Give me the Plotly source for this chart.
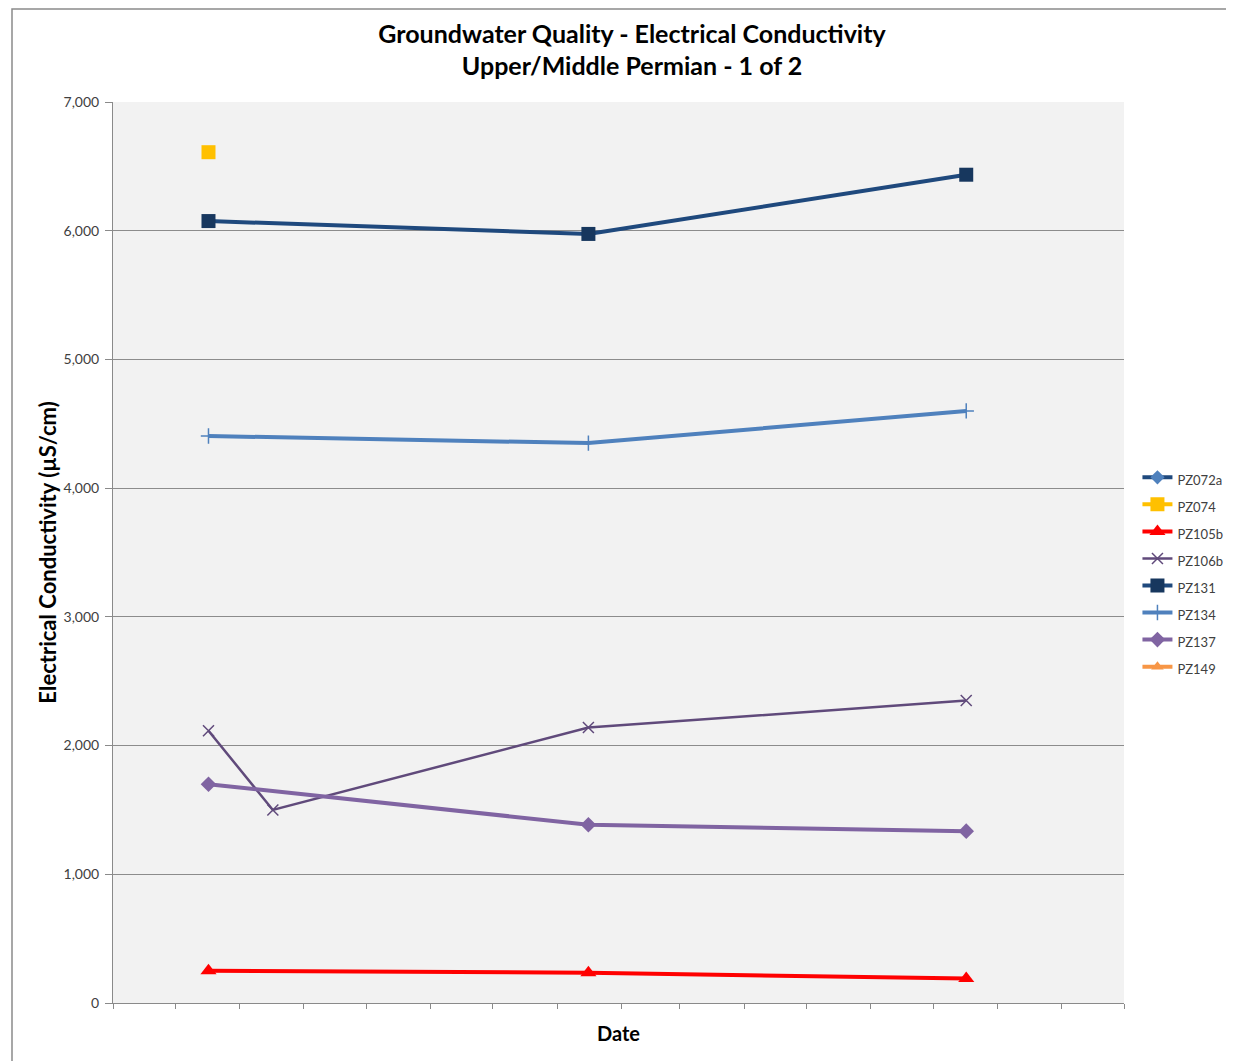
import plotly.graph_objects as go

# sample dates (mid-month, axis is monthly with no labels)
dates_main = ["2010-07-17", "2011-01-16", "2011-07-17"]
dates_106b = ["2010-07-17", "2010-08-17", "2011-01-16", "2011-07-17"]

pz072a = []
pz074 = [6610]
pz105b = [250, 235, 190]
pz106b = [2115, 1500, 2140, 2350]
pz131 = [6075, 5975, 6435]
pz134 = [4405, 4350, 4600]
pz137 = [1700, 1385, 1335]
pz149 = []

FONT = "Lato, Open Sans, sans-serif"

fig = go.Figure()

series = [
    ("PZ072a", [], pz072a, "#1F497D", "#4F81BD", "diamond", 11, 4),
    ("PZ074", dates_main[:1], pz074, "#FFC000", "#FFC000", "square", 14, 4),
    ("PZ105b", dates_main, pz105b, "#FF0000", "#FF0000", "triangle-up", 14, 4),
    ("PZ106b", dates_106b, pz106b, "#604A7B", "#604A7B", "x-thin", 11, 2.5),
    ("PZ131", dates_main, pz131, "#1F497D", "#17375E", "square", 14, 4),
    ("PZ134", dates_main, pz134, "#4F81BD", "#4F81BD", "cross-thin", 11, 4),
    ("PZ137", dates_main, pz137, "#8064A2", "#8064A2", "diamond", 12, 4),
    ("PZ149", [], pz149, "#F79646", "#F79646", "triangle-up", 11, 4),
]

for name, xs, ys, lc, mc, sym, ms, lw in series:
    fig.add_trace(
        go.Scatter(
            x=xs if xs else [None],
            y=ys if ys else [None],
            mode="lines+markers",
            name=f"<span style='font-size:13px'>{name}</span>",
            hovertemplate=f"{name}: %{{y:,}}<extra></extra>",
            line=dict(color=lc, width=lw),
            marker=dict(
                color=mc,
                symbol=sym,
                size=ms,
                line=dict(color=mc, width=1.5 if "thin" in sym else 0),
            ),
        )
    )

# outer chart border
fig.add_shape(
    type="rect",
    xref="paper",
    yref="paper",
    x0=-0.0999,
    x1=1.3,
    y0=-0.2,
    y1=1.1032,
    line=dict(color="#8a8a8a", width=1.5),
    fillcolor="rgba(0,0,0,0)",
    layer="below",
)

fig.update_layout(
    width=1226,
    height=1053,
    title=dict(
        text="<b>Groundwater Quality - Electrical Conductivity<br>Upper/Middle Permian - 1 of 2</b>",
        x=0.509,
        xanchor="center",
        y=0.967,
        yanchor="top",
        font=dict(family=FONT, size=25, color="#000000"),
    ),
    font=dict(family=FONT, color="#404040"),
    paper_bgcolor="white",
    plot_bgcolor="#F2F2F2",
    margin=dict(l=105, r=110, t=94, b=58, autoexpand=False),
    xaxis=dict(
        title=dict(text="<b>Date</b>", font=dict(family=FONT, size=20, color="#000000"), standoff=18),
        type="date",
        range=["2010-06-01", "2011-10-01"],
        dtick="M1",
        tick0="2010-06-01",
        showticklabels=False,
        ticks="outside",
        ticklen=5,
        tickcolor="#8a8a8a",
        showgrid=False,
        showline=True,
        linecolor="#8a8a8a",
        linewidth=1,
        zeroline=False,
    ),
    yaxis=dict(
        title=dict(
            text="<b>Electrical Conductivity (µS/cm)</b>",
            font=dict(family=FONT, size=22, color="#000000"),
            standoff=0,
        ),
        range=[0, 7000],
        dtick=1000,
        tickformat=",d",
        ticks="outside",
        ticklen=7,
        ticklabelstandoff=3,
        tickcolor="#8a8a8a",
        tickfont=dict(family=FONT, size=14, color="#404040"),
        showgrid=True,
        gridcolor="#8c8c8c",
        gridwidth=1,
        showline=True,
        linecolor="#8a8a8a",
        linewidth=1,
        zeroline=False,
    ),
    legend=dict(
        x=1.0133,
        xanchor="left",
        y=0.604,
        yanchor="top",
        font=dict(family=FONT, size=18.5, color="#404040"),
        tracegroupgap=0,
        itemwidth=30,
        bgcolor="rgba(0,0,0,0)",
    ),
)

fig.write_html("out.html")
